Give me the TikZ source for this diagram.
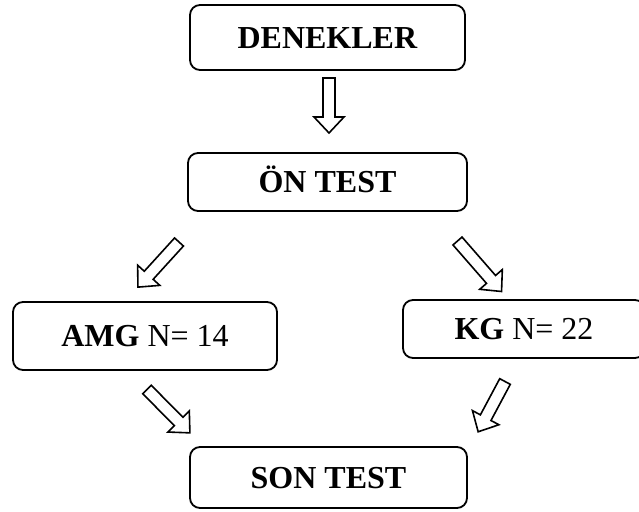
\documentclass[tikz,border=0pt]{standalone}
\usepackage{fontspec}
\setmainfont{Liberation Serif}
\tikzset{
  box/.style={draw, line width=1.8pt, rounded corners=10pt, inner sep=0pt,
    font=\fontsize{32}{38}\selectfont, text height=21.6pt, text depth=0pt},
  pics/barrow/.style={code={
    \draw[line width=1.6pt, line join=miter, fill=white]
      (0,-6) -- (#1-16,-6) -- (#1-16,-15) -- (#1,0) -- (#1-16,15) -- (#1-16,6) -- (0,6) -- cycle;
  }}
}
\begin{document}
\begin{tikzpicture}[x=1pt,y=1pt]
\useasboundingbox (0,0) rectangle (639,-511);
\node[box, minimum width=275pt, minimum height=65pt] (den) at (327.5,-37.5) {\textbf{DENEKLER}};
\node[box, minimum width=279pt, minimum height=58pt] (on) at (327.5,-182) {\textbf{ÖN TEST}};
\node[box, minimum width=264pt, minimum height=68pt] (amg) at (145,-336) {\textbf{AMG} N= 14};
\node[box, minimum width=242pt, minimum height=58pt] (kg) at (524,-329) {\textbf{KG} N= 22};
\node[box, minimum width=277pt, minimum height=61pt] (son) at (328.5,-477.5) {\textbf{SON TEST}};
\coordinate (a0) at (329,-78);
\coordinate (a1) at (179,-242);
\coordinate (a2) at (457.5,-241);
\coordinate (a3) at (147,-389.5);
\coordinate (a4) at (505,-381.5);
\pic[rotate=-90] at (a0) {barrow=55};
\pic[rotate=-132.3] at (a1) {barrow=61};
\pic[rotate=-48.9] at (a2) {barrow=67};
\pic[rotate=-45.3] at (a3) {barrow=61};
\pic[rotate=-118.1] at (a4) {barrow=57};
\end{tikzpicture}
\end{document}
